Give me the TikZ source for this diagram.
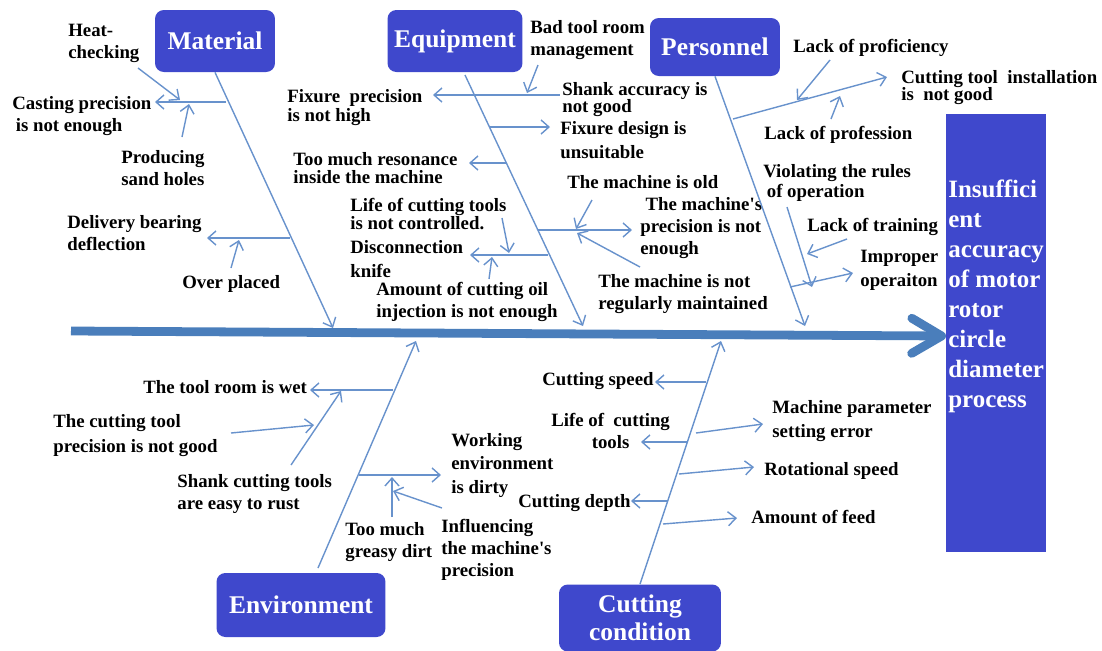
\documentclass[tikz,border=0pt]{standalone}
\usepackage{fontspec}
\setmainfont{Liberation Serif}
\usetikzlibrary{arrows.meta}
\definecolor{boxblue}{RGB}{63,72,204}
\definecolor{spineblue}{RGB}{74,126,187}
\definecolor{boneblue}{RGB}{104,146,204}

\begin{document}
\begin{tikzpicture}[x=0.02cm,y=-0.02cm,
  catbox/.style={fill=boxblue,rounded corners=5pt,text=white,align=center,
    font=\fontsize{14.5}{16}\selectfont\bfseries},
  cause/.style={anchor=north west,inner sep=0pt,align=left,
    font=\fontsize{10.7}{12.5}\selectfont\bfseries},
  bone/.style={boneblue,line width=0.8pt,-{Straight Barb[length=4.5pt,width=8pt]}}]
\useasboundingbox (0,0) rectangle (1102,650);

% effect box
\node[fill=boxblue,minimum width=2cm,minimum height=8.76cm,inner sep=0pt,anchor=north west] (effect) at (946,114) {};
\node[anchor=north west,inner sep=0pt,align=left,text=white,font=\fontsize{14.2}{17}\selectfont\bfseries] (efftxt) at ([shift={(2,66)}]effect.north west) {Insuffici\\ent\\accuracy\\of motor\\rotor\\circle\\diameter\\process};

% categories
\node[catbox,minimum width=2.4cm,minimum height=1.24cm] (mat) at (215,41) {Material};
\node[catbox,minimum width=2.7cm,minimum height=1.24cm] (equ) at (455,41) {Equipment};
\node[catbox,minimum width=2.6cm,minimum height=1.16cm] (per) at (715,47) {Personnel};
\node[catbox,minimum width=3.38cm,minimum height=1.28cm] (env) at (301,605) {Environment};
\node[catbox,minimum width=3.24cm,minimum height=1.34cm] (cut) at (640,618) {Cutting\\condition};

% spine
\coordinate (tail) at (71,331);
\coordinate (head) at (946,336);
\draw[spineblue,line width=5pt,-{Straight Barb[length=17pt,width=20pt,round]}] (tail) -- (head);

% material
\node[cause] (heat) at (68,24) {Heat-\\checking};
\node[cause] (cast) at (12,96) {Casting precision\\\hspace{2pt}is not enough};
\node[cause] (prod) at (121,150) {Producing\\sand holes};
\node[cause] (deliv) at (67,215) {Delivery bearing\\deflection};
\node[cause] (over) at (182,275) {Over placed};
\coordinate (m0) at (333,328);
\coordinate (m1s) at (226,102);
\coordinate (m1t) at (155,102);
\coordinate (m1u) at (138,68);
\coordinate (m1v) at (180,100);
\coordinate (m1w) at (182,137);
\coordinate (m1x) at (189,104);
\coordinate (m2s) at (290,238);
\coordinate (m2t) at (207,238);
\coordinate (m2u) at (231,268);
\coordinate (m2v) at (239,240);
\draw[bone] (mat.south) -- (m0);
\draw[bone] (m1s) -- (m1t);
\draw[bone] (m1u) -- (m1v);
\draw[bone] (m1w) -- (m1x);
\draw[bone] (m2s) -- (m2t);
\draw[bone] (m2u) -- (m2v);

% equipment
\node[cause] (badtool) at (530,20) {Bad tool room\\management};
\node[cause] (fixprec) at (287,89) {Fixure~ precision\\[-1.7pt]is not high};
\node[cause] (shank) at (562,82) {Shank accuracy is\\[-3pt]not good};
\node[cause] (fixdes) at (560,121) {Fixure design is\\[1pt]unsuitable};
\node[cause] (reson) at (293,152) {Too much resonance\\[-2pt]inside the machine};
\node[cause] (old) at (567,175) {The machine is old};
\node[cause] (life) at (350,198) {Life of cutting tools\\[-2.5pt]is not controlled.};
\node[cause] (mprec) at (640,197) {\hspace{3pt}The machine\textquotesingle s\\precision is not\\enough};
\node[cause] (disc) at (350,240) {Disconnection\\[1pt]knife};
\node[cause] (oil) at (376,282) {Amount of cutting oil\\injection is not enough};
\node[cause] (maint) at (598,274) {The machine is not\\regularly maintained};
\coordinate (e0s) at (465,75);
\coordinate (e0) at (583,326);
\coordinate (e1l) at (433,95);
\coordinate (e1r) at (560,95);
\coordinate (e1u) at (538,65);
\coordinate (e1v) at (527,93);
\coordinate (e2s) at (490,127);
\coordinate (e2t) at (550,127);
\coordinate (e3s) at (507,163);
\coordinate (e3t) at (469,163);
\coordinate (e4s) at (538,230);
\coordinate (e4t) at (632,230);
\coordinate (e4u) at (592,200);
\coordinate (e4v) at (576,229);
\coordinate (e4w) at (640,267);
\coordinate (e4x) at (577,233);
\coordinate (e5s) at (548,255);
\coordinate (e5t) at (470,255);
\coordinate (e5u) at (502,218);
\coordinate (e5v) at (509,253);
\coordinate (e5w) at (489,279);
\coordinate (e5x) at (492,257);
\draw[bone] (e0s) -- (e0);
\draw[bone,{Straight Barb[length=4.5pt,width=8pt]}-] (e1l) -- (e1r);
\draw[bone] (e1u) -- (e1v);
\draw[bone] (e2s) -- (e2t);
\draw[bone] (e3s) -- (e3t);
\draw[bone] (e4s) -- (e4t);
\draw[bone] (e4u) -- (e4v);
\draw[bone] (e4w) -- (e4x);
\draw[bone] (e5s) -- (e5t);
\draw[bone] (e5u) -- (e5v);
\draw[bone] (e5w) -- (e5x);

% personnel
\node[cause] (prof) at (793,39) {Lack of proficiency};
\node[cause] (install) at (901,70) {Cutting tool~ installation\\[-2.8pt]is~ not good};
\node[cause] (profes) at (764,126) {Lack of profession};
\node[cause] (viol) at (763,164) {Violating the rules\\[-1.1pt]\hspace{2pt}of operation};
\node[cause] (train) at (807,218) {Lack of training};
\node[cause] (improp) at (860,250) {Improper\\[1pt]operaiton};
\coordinate (p0) at (805,326);
\coordinate (p1s) at (733,119);
\coordinate (p1t) at (887,77);
\coordinate (p1u) at (830,60);
\coordinate (p1v) at (797,100);
\coordinate (p1w) at (831,119);
\coordinate (p1x) at (840,96);
\coordinate (p2s) at (790,287);
\coordinate (p2t) at (853,273);
\coordinate (p2u) at (787,207);
\coordinate (p2v) at (812,287);
\coordinate (p2w) at (847,239);
\coordinate (p2x) at (807,254);
\draw[bone] (per.south) -- (p0);
\draw[bone] (p1s) -- (p1t);
\draw[bone] (p1u) -- (p1v);
\draw[bone] (p1w) -- (p1x);
\draw[bone] (p2s) -- (p2t);
\draw[bone] (p2u) -- (p2v);
\draw[bone] (p2w) -- (p2x);

% environment
\node[cause] (wet) at (143,380) {The tool room is wet};
\node[cause] (ctprec) at (53,414) {The cutting tool\\[1.7pt]precision is not good};
\node[cause] (rust) at (177,474) {Shank cutting tools\\are easy to rust};
\node[cause] (dirty) at (451,433) {Working\\[0.8pt]environment\\[0.8pt]is dirty};
\node[cause] (greasy) at (345,522) {Too much\\greasy dirt};
\node[cause] (infl) at (441,519) {Influencing\\the machine\textquotesingle s\\precision};
\coordinate (v0s) at (318,568);
\coordinate (v0) at (416,341);
\coordinate (v1s) at (393,390);
\coordinate (v1t) at (310,390);
\coordinate (v1u) at (231,433);
\coordinate (v1v) at (314,425);
\coordinate (v1w) at (291,465);
\coordinate (v1x) at (341,391);
\coordinate (v2s) at (359,475);
\coordinate (v2t) at (441,475);
\coordinate (v2u) at (392,517);
\coordinate (v2v) at (392,477);
\coordinate (v2w) at (442,508);
\coordinate (v2x) at (393,491);
\draw[bone] (v0s) -- (v0);
\draw[bone] (v1s) -- (v1t);
\draw[bone] (v1u) -- (v1v);
\draw[bone] (v1w) -- (v1x);
\draw[bone] (v2s) -- (v2t);
\draw[bone] (v2u) -- (v2v);
\draw[bone] (v2w) -- (v2x);

% cutting condition
\node[cause] (cspeed) at (542,372) {Cutting speed};
\node[cause,align=center] (clife) at (551,413) {Life of~ cutting\\tools};
\node[cause] (param) at (772,400) {Machine parameter\\[1pt]setting error};
\node[cause] (rot) at (764,462) {Rotational speed};
\node[cause] (depth) at (518,494) {Cutting depth};
\node[cause] (feed) at (751,510) {Amount of feed};
\coordinate (c0) at (721,341);
\coordinate (c1s) at (706,382);
\coordinate (c1t) at (655,382);
\coordinate (c2s) at (687,442);
\coordinate (c2t) at (641,442);
\coordinate (c3s) at (696,433);
\coordinate (c3t) at (763,424);
\coordinate (c4s) at (679,474);
\coordinate (c4t) at (754,467);
\coordinate (c5s) at (667,501);
\coordinate (c5t) at (631,501);
\coordinate (c6s) at (663,524);
\coordinate (c6t) at (737,518);
\draw[bone] (cut.north) -- (c0);
\draw[bone] (c1s) -- (c1t);
\draw[bone] (c2s) -- (c2t);
\draw[bone] (c3s) -- (c3t);
\draw[bone] (c4s) -- (c4t);
\draw[bone] (c5s) -- (c5t);
\draw[bone] (c6s) -- (c6t);
\end{tikzpicture}
\end{document}
